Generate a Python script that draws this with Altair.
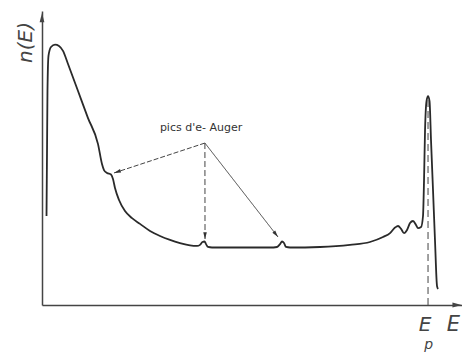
import altair as alt
import pandas as pd

# ---- electron energy spectrum n(E), arbitrary units (E_p = 100) ----
energy = [1.17, 1.30, 1.42, 1.68, 2.33, 3.37, 4.40, 5.44, 6.74, 9.33, 11.92, 14.51,
          15.54, 16.06, 16.84, 17.88, 18.39, 18.91, 19.95, 21.50, 23.32, 25.39, 27.98,
          30.57, 33.16, 35.75, 38.34, 40.16, 40.93, 41.58, 42.10, 42.49, 43.01, 44.04,
          51.30, 59.07, 60.88, 61.66, 62.18, 62.69, 63.21, 64.25, 72.02, 79.79, 84.97,
          88.34, 90.16, 91.45, 92.23, 93.01, 93.78, 94.56, 95.34, 96.11, 96.89, 97.41,
          98.19, 98.70, 98.96, 99.22, 99.61, 100.0, 100.39, 100.78, 101.30, 101.81,
          102.33, 102.59]
counts = [33.9, 58.7, 81.5, 94.9, 98.3, 99.2, 98.7, 96.8, 91.8, 81.5, 71.2, 61.3,
          53.7, 51.4, 50.3, 49.7, 48.0, 44.6, 40.0, 35.8, 33.1, 30.9, 28.2,
          26.3, 24.8, 23.6, 22.7, 22.5, 22.9, 24.0, 24.2, 23.2, 22.1, 21.9,
          21.9, 21.9, 22.1, 23.2, 24.2, 23.6, 22.1, 21.9, 22.1, 22.9, 24.0,
          25.9, 27.4, 29.5, 30.1, 29.0, 27.4, 28.6, 31.2, 32.0, 30.5, 29.3,
          29.7, 33.9, 47.2, 66.3, 77.7, 79.6, 77.7, 62.5, 43.4, 24.4,
          7.2, 6.1]

# ---- annotation: Auger peaks ----
label_text = "pics d'e- Auger"
label_E, label_n = 41.2, 67.4
apex_E, apex_n = 42.2, 61.7
tip_E = [18.65, 42.23, 61.14]
tip_n = [50.3, 25.1, 25.9]

# ---- primary energy ----
E_p = 100.0
E_p_top = 79.6

# ---- axis arrow tips ----
x_tip_E = 108.7
y_tip_n = 111.2

X_DOMAIN = [0, 108.8]
Y_DOMAIN = [0, 112]

FONT = "DejaVu Sans"
INK = "#2a2a2a"

xs = alt.Scale(domain=X_DOMAIN, nice=False, zero=False)
ys = alt.Scale(domain=Y_DOMAIN, nice=False, zero=False)

ax_x = alt.Axis(title="E", ticks=False, labels=False, grid=False,
                domainColor="#444", domainWidth=1.5,
                titleX=411, titleY=25, titleAlign="center", titleBaseline="alphabetic",
                titleFont=FONT, titleFontSize=21, titleFontStyle="italic",
                titleFontWeight="normal", titleColor="#444")
ax_y = alt.Axis(title="n(E)", ticks=False, labels=False, grid=False,
                domainColor="#444", domainWidth=1.5,
                titleAngle=270, titleX=-17, titleY=31, titleAlign="center",
                titleBaseline="middle", titleFont=FONT, titleFontSize=20,
                titleFontStyle="italic", titleFontWeight="normal", titleColor="#444")


def X(field="E"):
    return alt.X(f"{field}:Q", scale=xs, axis=ax_x, title="E")


def Y(field="n"):
    return alt.Y(f"{field}:Q", scale=ys, axis=ax_y, title="n(E)")


curve_df = pd.DataFrame({"E": energy, "n": counts, "i": list(range(len(energy)))})
curve = alt.Chart(curve_df).mark_line(
    interpolate="monotone", color=INK, strokeWidth=1.8
).encode(x=X(), y=Y(), order=alt.Order("i:Q"))

ep_df = pd.DataFrame({"E": [E_p], "n": [0.0], "n2": [E_p_top]})
ep_line = alt.Chart(ep_df).mark_rule(
    color="#555", strokeWidth=1.1, strokeDash=[7, 4]
).encode(x=X(), y=Y(), y2=alt.Y2("n2:Q"))

arr_df = pd.DataFrame({
    "E": [apex_E] * 3, "n": [apex_n] * 3, "E2": tip_E, "n2": tip_n, "k": [0, 1, 2]
})
dashes = [[5, 2], [6, 3], [1, 0]]
arrow_angles = [251.7, 180.0, 142.2]
ARROW = "M0,0L0.6,2.3L-0.6,2.3Z"

layers = [curve, ep_line]
for k in range(3):
    sub = arr_df[arr_df["k"] == k]
    layers.append(
        alt.Chart(sub).mark_rule(color="#444", strokeWidth=1.0, strokeDash=dashes[k])
        .encode(x=X(), y=Y(), x2=alt.X2("E2:Q"), y2=alt.Y2("n2:Q"))
    )
    head_df = pd.DataFrame({"E": [tip_E[k]], "n": [tip_n[k]]})
    layers.append(
        alt.Chart(head_df).mark_point(shape=ARROW, filled=True, size=36, color="#333",
                                      opacity=1, angle=arrow_angles[k], strokeWidth=0)
        .encode(x=X(), y=Y())
    )

# axis arrowheads
layers.append(
    alt.Chart(pd.DataFrame({"E": [0.0], "n": [y_tip_n]}))
    .mark_point(shape=ARROW, filled=True, size=64, color="#444", opacity=1, strokeWidth=0)
    .encode(x=X(), y=Y())
)
layers.append(
    alt.Chart(pd.DataFrame({"E": [x_tip_E], "n": [0.0]}))
    .mark_point(shape=ARROW, filled=True, size=64, color="#444", opacity=1,
                angle=90, strokeWidth=0)
    .encode(x=X(), y=Y())
)

label = alt.Chart(pd.DataFrame({"E": [label_E], "n": [label_n], "t": [label_text]})).mark_text(
    font=FONT, fontSize=11, color="#333", align="center", baseline="middle"
).encode(x=X(), y=Y(), text="t:N")
layers.append(label)

ep_E = alt.Chart(pd.DataFrame({"E": [99.2], "n": [-9.9], "t": ["E"]})).mark_text(
    font=FONT, fontSize=20, fontStyle="italic", color="#444", align="center",
    baseline="alphabetic"
).encode(x=X(), y=Y(), text="t:N")
ep_p = alt.Chart(pd.DataFrame({"E": [100.2], "n": [-16.8], "t": ["p"]})).mark_text(
    font=FONT, fontSize=14, fontStyle="italic", color="#444", align="center",
    baseline="alphabetic"
).encode(x=X(), y=Y(), text="t:N")
layers += [ep_E, ep_p]

chart = alt.layer(*layers).properties(
    width=420, height=294,
    autosize=alt.AutoSizeParams(type="none"),
    padding={"left": 34, "top": 3, "right": 0, "bottom": 48},
    background="white",
).configure_view(stroke=None)

chart.save("out.html", embed_options={"renderer": "svg", "actions": False})
